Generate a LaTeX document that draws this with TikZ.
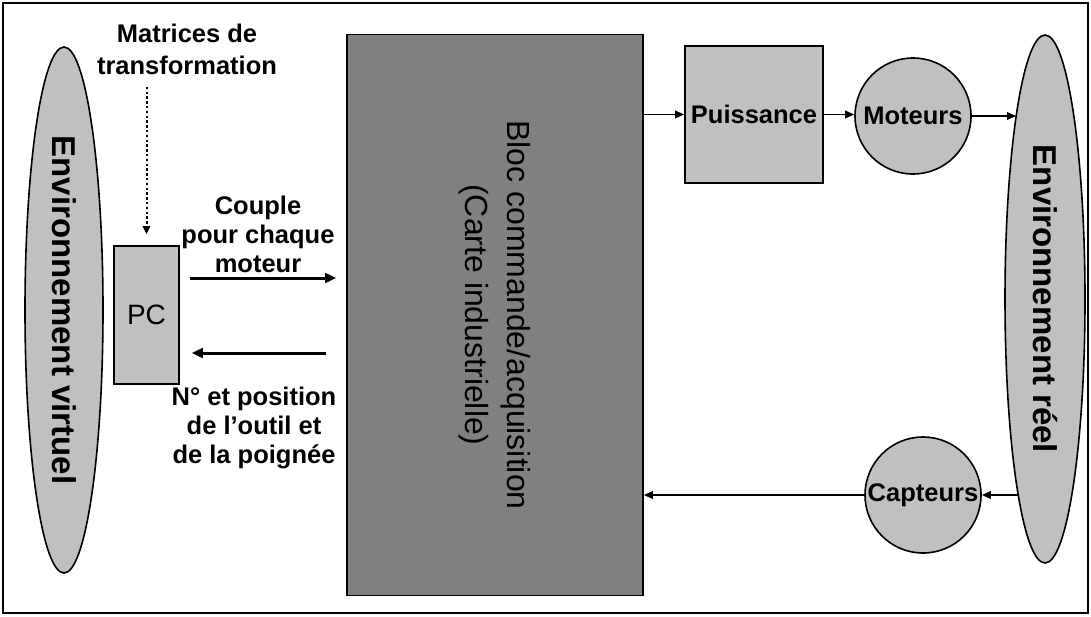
\documentclass[tikz,border=0pt]{standalone}
\usepackage{fontspec}
\setmainfont{Liberation Sans}
\usetikzlibrary{arrows.meta,shapes.geometric,calc}
\definecolor{gris}{HTML}{C0C0C0}
\definecolor{grisfonce}{HTML}{808080}

\begin{document}
\begin{tikzpicture}[x=0.5pt,y=-0.5pt,
  envnode/.style={ellipse,draw=black,line width=0.8pt,fill=gris,rotate=-90,inner sep=0pt,font=\fontsize{16.5}{19}\selectfont\bfseries},
  boite/.style={rectangle,draw=black,line width=0.8pt,fill=gris,inner sep=0pt},
  rond/.style={circle,draw=black,line width=0.8pt,fill=gris,inner sep=0pt,minimum size=58pt,font=\fontsize{12.75}{14.5}\selectfont\bfseries},
  etiq/.style={align=center,inner sep=0pt,font=\fontsize{12.75}{14.5}\selectfont\bfseries},
  fleche/.style={line width=0.8pt,-{Triangle[length=4.5pt,width=3.8pt]}},
  grosse/.style={line width=1.5pt,-{Triangle[length=5.5pt,width=4.8pt]}}]
\useasboundingbox (0,0) rectangle (1091,616);
\draw[line width=1pt] (3,3) rectangle (1088,613);
% environnements
\node[envnode,minimum width=263pt,minimum height=39pt] (virt) at (64,310) {Environnement virtuel};
\node[envnode,minimum width=264pt,minimum height=40pt] (reel) at (1045,299) {Environnement réel};
% cote PC
\node[boite,minimum width=32.5pt,minimum height=69pt,font=\fontsize{14}{16}\selectfont] (pc) at (146.5,315) {PC};
\node[etiq,font=\fontsize{12.75}{16}\selectfont\bfseries] (mat) at (187,49) {Matrices de\\transformation};
\node[etiq] (couple) at (258,234) {Couple\\pour chaque\\moteur};
\node[etiq] (pos) at (254,428) {N° et position\\de l’outil et\\de la poignée};
% carte (tournee : south = gauche, north = droite)
\node[boite,fill=grisfonce,rotate=-90,minimum width=280.5pt,minimum height=148pt,align=center,font=\fontsize{16}{21}\selectfont] (bloc) at (495,315) {Bloc commande/acquisition\\(Carte industrielle)};
% partie puissance
\node[boite,minimum width=69pt,minimum height=68.5pt,font=\fontsize{12.75}{14.5}\selectfont\bfseries] (puis) at (754,114.5) {Puissance};
\node[rond] (mot) at (913,116) {Moteurs};
\node[rond] (cap) at (923,495) {Capteurs};

\draw[line width=1pt,dash pattern=on 1.2pt off 1.2pt,-{Triangle[length=4pt,width=3.6pt]},shorten <=6pt,shorten >=5.5pt] (pc.north |- mat.south) -- (pc.north);
\draw[grosse] ([shift={(5pt,18.5pt)}]pc.east) -- ([shift={(-5pt,18.5pt)}]pc.east -| bloc.south);
\draw[grosse] ([shift={(-10pt,-19pt)}]pc.east -| bloc.south) -- ([shift={(6pt,-19pt)}]pc.east);
\draw[fleche] (puis.west -| bloc.north) -- (puis.west);
\draw[fleche] (puis.east) -- (puis.east -| mot.west);
\draw[fleche] (mot.east) -- ($(mot.east -| reel.center)+(-14.5pt,0)$);
\draw[fleche] ($(cap.east -| reel.center)+(-13.5pt,0)$) -- (cap.east);
\draw[fleche] (cap.west) -- (cap.west -| bloc.north);
\end{tikzpicture}
\end{document}
